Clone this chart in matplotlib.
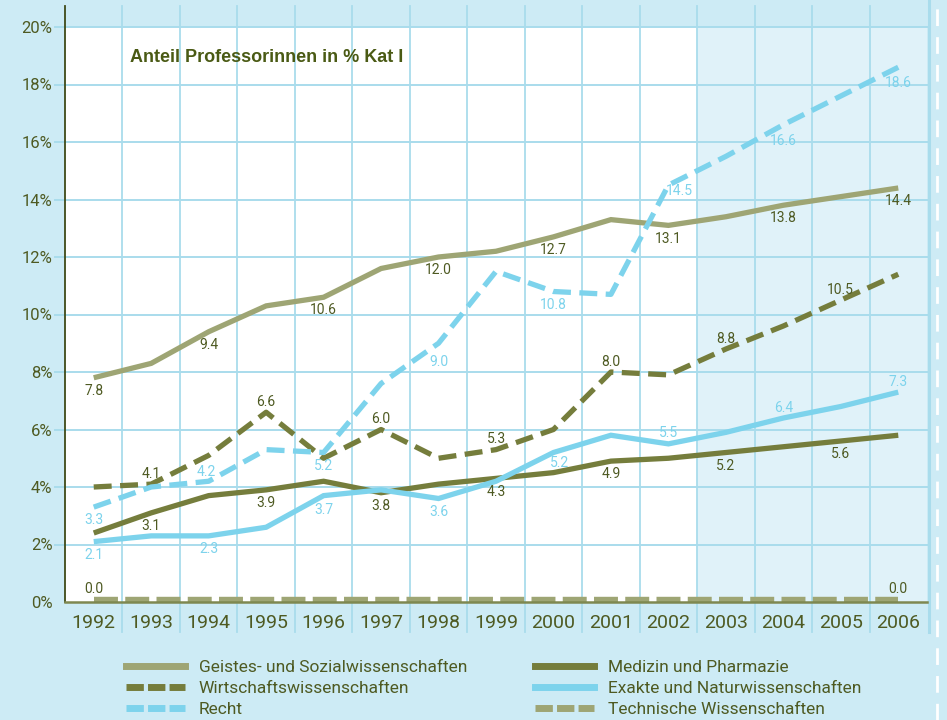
import matplotlib
matplotlib.use("Agg")
import matplotlib.pyplot as plt
from matplotlib import font_manager
from matplotlib.lines import Line2D

# ---------------- data ----------------
years = list(range(1992, 2007))
geistes = [7.8, 8.3, 9.4, 10.3, 10.6, 11.6, 12.0, 12.2, 12.7, 13.3, 13.1, 13.4, 13.8, 14.1, 14.4]
wirtschaft = [4.0, 4.1, 5.1, 6.6, 5.0, 6.0, 5.0, 5.3, 6.0, 8.0, 7.9, 8.8, 9.6, 10.5, 11.4]
recht = [3.3, 4.0, 4.2, 5.3, 5.2, 7.6, 9.0, 11.5, 10.8, 10.7, 14.5, 15.5, 16.6, 17.6, 18.6]
medizin = [2.4, 3.1, 3.7, 3.9, 4.2, 3.8, 4.1, 4.3, 4.5, 4.9, 5.0, 5.2, 5.4, 5.6, 5.8]
exakte = [2.1, 2.3, 2.3, 2.6, 3.7, 3.9, 3.6, 4.2, 5.2, 5.8, 5.5, 5.9, 6.4, 6.8, 7.3]
technische = [0.0] * 15
names = ["Geistes- und Sozialwissenschaften", "Wirtschaftswissenschaften", "Recht",
         "Medizin und Pharmazie", "Exakte und Naturwissenschaften", "Technische Wissenschaften"]
yticks = [0, 2, 4, 6, 8, 10, 12, 14, 16, 18, 20]
ytick_labels = [f"{v}%" for v in yticks]
title = "Anteil Professorinnen in % Kat I"

# ---------------- style ----------------
def pick(cands):
    avail = {f.name for f in font_manager.fontManager.ttflist}
    for c in cands:
        if c in avail:
            return c
    return "DejaVu Sans"

FONT = pick(["Liberation Sans Narrow", "Roboto", "Liberation Sans"])
TFONT = pick(["Liberation Sans", "Roboto"])
plt.rcParams["font.family"] = [FONT, "DejaVu Sans"]

BG = "#cdebf5"
SHADE = "#e0f2f9"
GRID = "#a9dcec"
KHAKI = "#9ea574"
OLIVE = "#757d3c"
BLUE = "#7dd3ec"
TXT = "#4e5a22"

fig = plt.figure(figsize=(9.47, 7.2), dpi=100, facecolor=BG)
ax = fig.add_axes([65 / 947, 118 / 720, (927 - 65) / 947, 575 / 720])
ax.set_facecolor("white")
ax.set_xlim(1991.5, 2006.5)
ax.set_ylim(0, 20)
ax.axvspan(2002.5, 2006.5, color=SHADE, zorder=0, lw=0)

ypx = 20 / 575
# horizontal gridlines
for v in yticks[1:]:
    ax.plot([1991.5 - 10 / 57.4, 2006.5], [v, v], color=GRID, lw=1.4, zorder=1, clip_on=False)
# vertical gridlines, extend beyond axes
for xv in [y + 0.5 for y in years[:-1]]:
    ax.plot([xv, xv], [-30 * ypx, 20 + 21 * ypx], color=GRID, lw=1.3, zorder=1, clip_on=False)
# right edge line
ax.plot([2006.5 + 2 / 57.4] * 2, [-30 * ypx, 20 + 27 * ypx], color=GRID, lw=2.2, zorder=1, clip_on=False)
fig.add_artist(Line2D([937 / 947] * 2, [0, 1], color="white", lw=2, dashes=(6, 4)))

for s in ["top", "right"]:
    ax.spines[s].set_visible(False)
ax.spines["left"].set_color("#3f4a18")
ax.spines["left"].set_linewidth(1.3)
ax.spines["left"].set_bounds(0, 20 + 21 * ypx)
ax.spines["bottom"].set_color("#7e8850")
ax.spines["bottom"].set_linewidth(1.8)
ax.spines["bottom"].set_zorder(6)

ax.set_yticks(yticks)
ax.set_yticklabels(ytick_labels)
ax.set_xticks(years)
ax.set_xticklabels([str(y) for y in years])
ax.tick_params(axis="both", length=0, colors=TXT)
ax.tick_params(axis="y", labelsize=12, pad=9)
ax.tick_params(axis="x", labelsize=14, pad=9)

lw = 3.8
series = [
    (geistes, KHAKI, None),
    (wirtschaft, OLIVE, (3.4, 1.6)),
    (recht, BLUE, (3.4, 1.6)),
    (medizin, OLIVE, None),
    (exakte, BLUE, None),
]
for vals, col, dash in series:
    kw = dict(color=col, lw=lw, zorder=4, solid_capstyle="butt", solid_joinstyle="miter")
    if dash:
        ax.plot(years, vals, dashes=dash, dash_capstyle="butt", **kw)
    else:
        ax.plot(years, vals, **kw)
ax.plot(years, technische, color=KHAKI, lw=7.5, dashes=(2.3, 0.7), dash_capstyle="butt", zorder=3)

# value labels
def labels(vals, idx, offs, color):
    for i, o in zip(idx, offs):
        dx, dy = o if isinstance(o, tuple) else (0, o)
        ax.annotate(f"{vals[i]:.1f}", (years[i], vals[i]), xytext=(dx, dy), textcoords="offset points",
                    ha="center", va="center", fontsize=10, color=color, zorder=7)

A, B = 7.5, -9.5
labels(geistes, [0, 2, 4, 6, 8, 10, 12, 14], [B] * 8, TXT)
labels(wirtschaft, [1, 3, 5, 7, 9, 11, 13], [A] * 7, TXT)
labels(recht, [0, 2, 4, 6, 8, 10, 12, 14],
       [B, (-2, 6.5), B, -13.5, B, (8, -4), -12, -11.5], BLUE)
labels(medizin, [1, 3, 5, 7, 9, 11, 13], [B] * 7, TXT)
labels(exakte, [0, 2, 4, 6, 8, 10, 12, 14], [B, B, -10.5, B, (4, -7.5), A, A, A], BLUE)
labels(technische, [0, 14], [9.5, 9.5], TXT)

ax.text(130 / 947, 1 - 58 / 720, title, transform=fig.transFigure, fontsize=13,
        fontweight="bold", color="#4a5a14", family=TFONT, va="center", ha="left")

leg_dash = (2.5, 0.6)
leg_handles = [Line2D([], [], color=KHAKI, lw=5),
               Line2D([], [], color=OLIVE, lw=5, dashes=leg_dash, dash_capstyle="butt"),
               Line2D([], [], color=BLUE, lw=5, dashes=leg_dash, dash_capstyle="butt"),
               Line2D([], [], color=OLIVE, lw=5),
               Line2D([], [], color=BLUE, lw=5),
               Line2D([], [], color=KHAKI, lw=5, dashes=leg_dash, dash_capstyle="butt")]
leg = fig.legend(leg_handles, names, loc="upper left", bbox_to_anchor=(126 / 947, 1 - 660 / 720),
                 ncol=2, frameon=False, fontsize=12.5, handlelength=3.4, handletextpad=0.8,
                 labelspacing=0.33, columnspacing=3.9, borderaxespad=0, borderpad=0)
for t in leg.get_texts():
    t.set_color(TXT)

fig.savefig("out.png", dpi=100, facecolor=BG)
